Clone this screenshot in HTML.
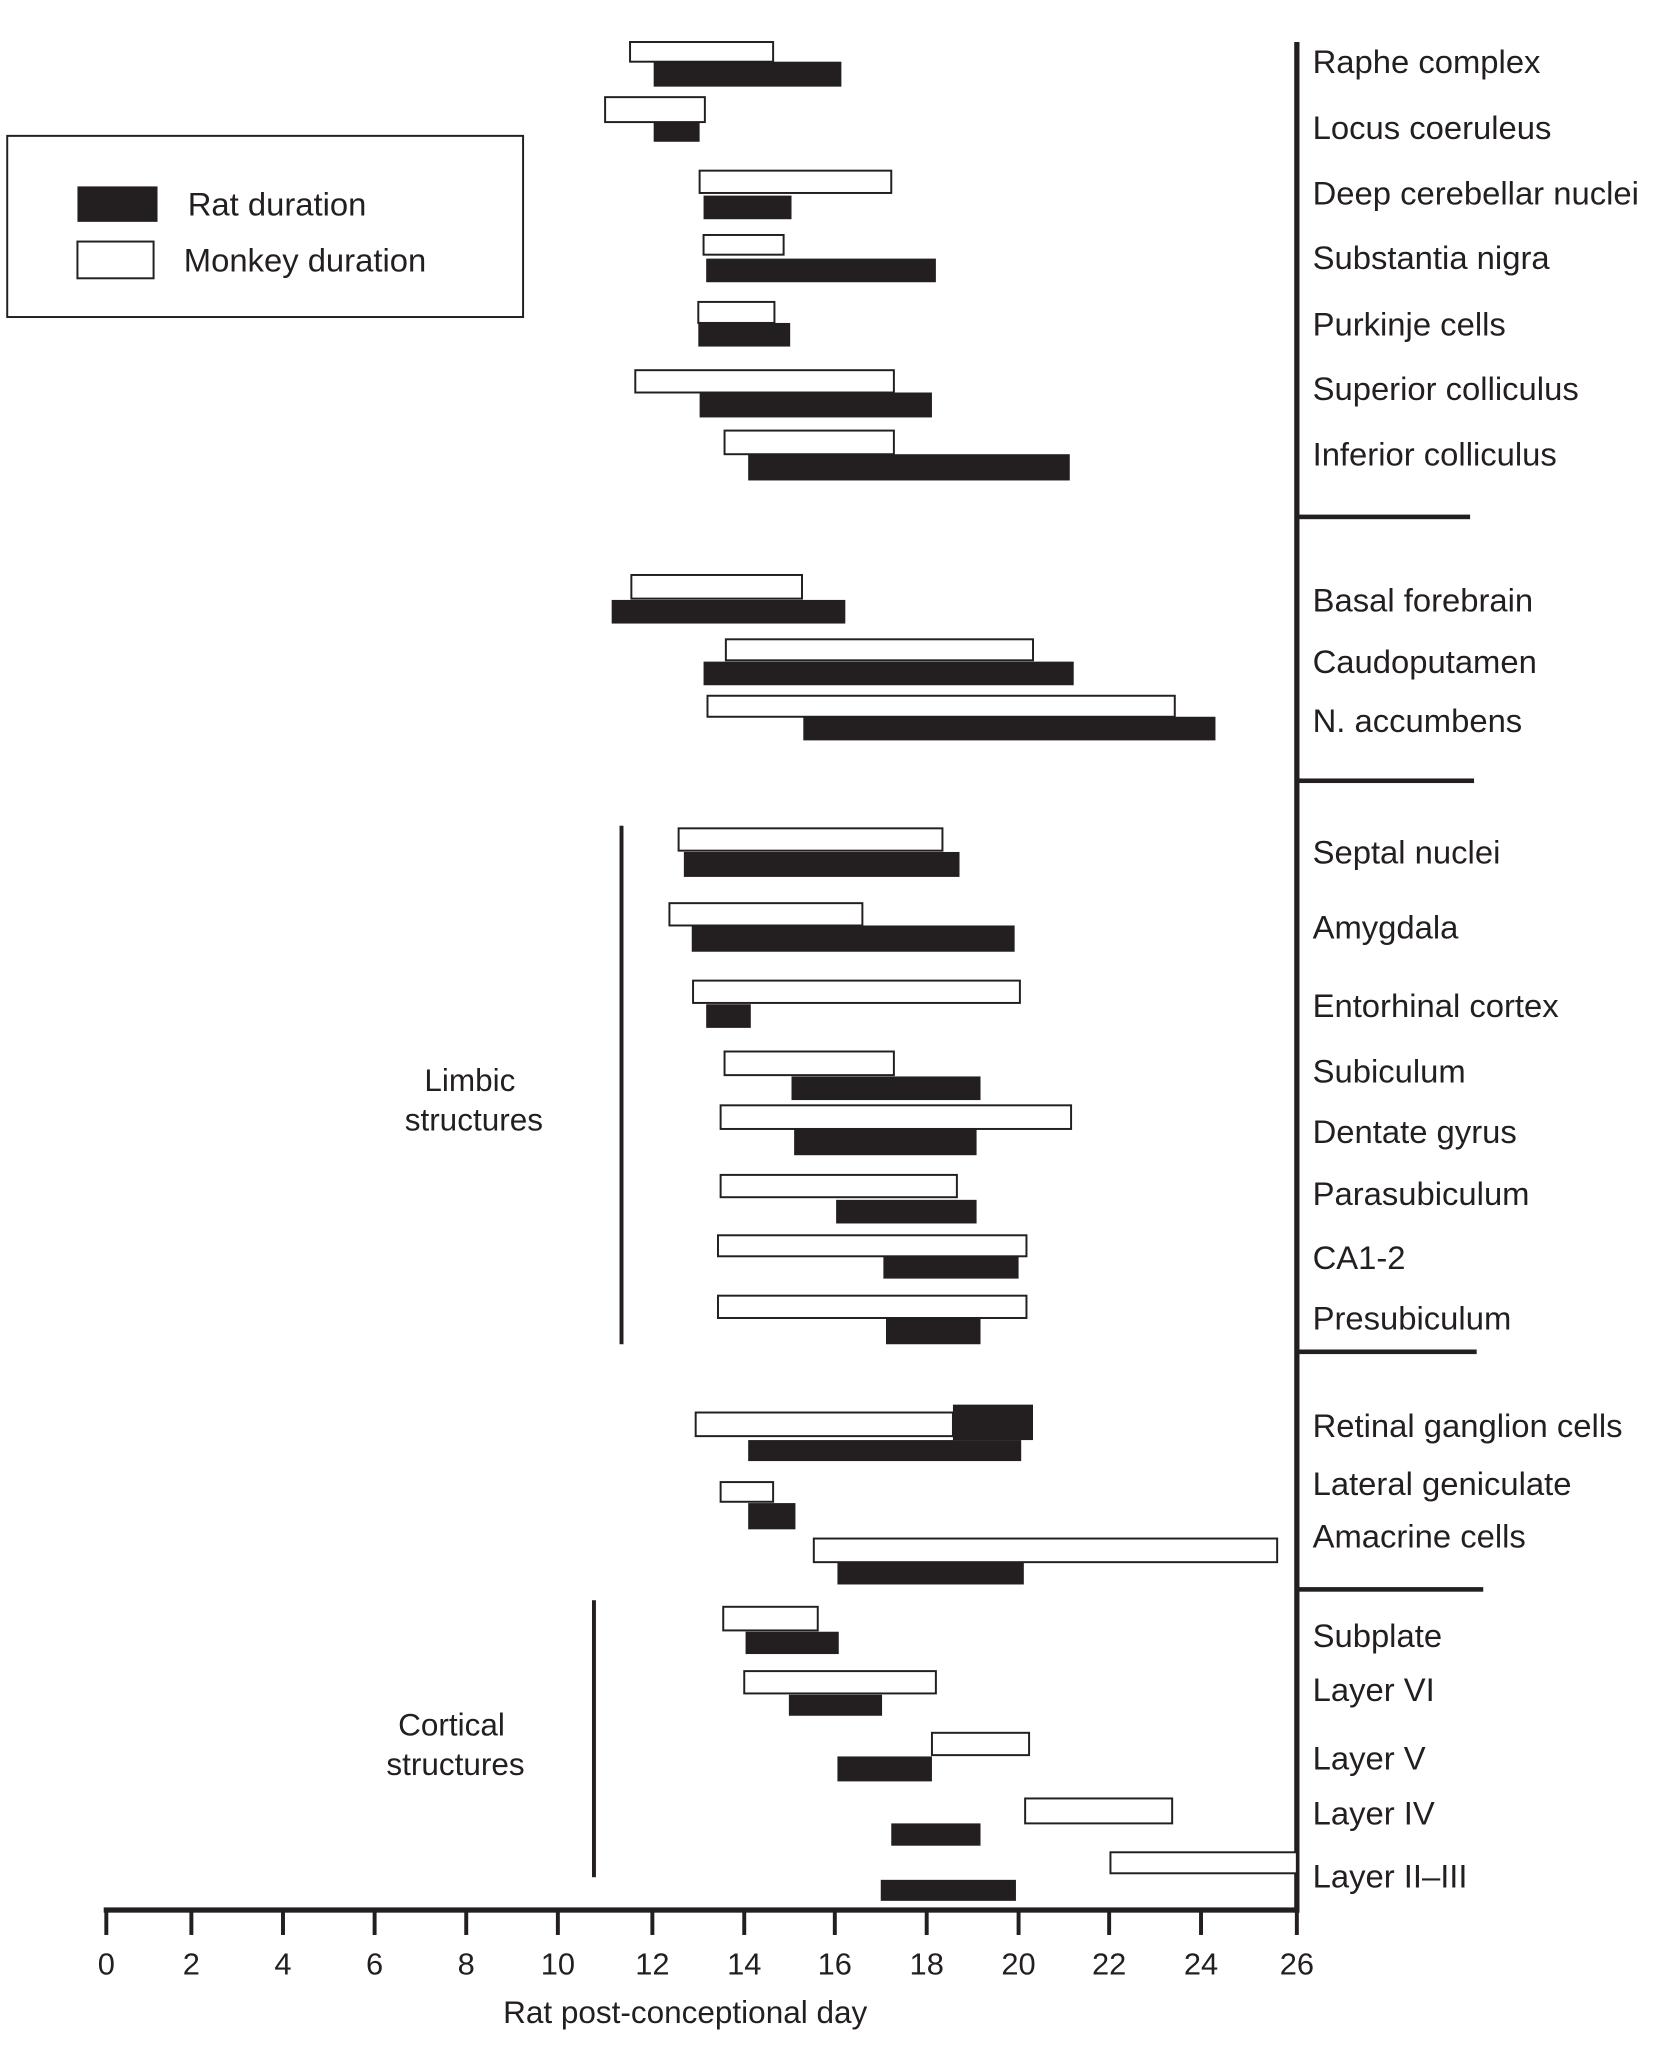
<!DOCTYPE html>
<html><head><meta charset="utf-8"><style>html,body{margin:0;padding:0;background:#fff}svg{display:block}text{font-family:"Liberation Sans",Arial,sans-serif;fill:#231f20}</style></head><body>
<svg width="1667" height="2061" viewBox="0 0 1270 1570" preserveAspectRatio="none" xmlns="http://www.w3.org/2000/svg">
<g fill="#231f20">
<rect x="79" y="1453" width="911" height="4"/>
<rect x="986" y="32" width="4" height="1425"/>
<rect x="988" y="392" width="132" height="3.5"/>
<rect x="988" y="593" width="135" height="3.5"/>
<rect x="988" y="1028" width="137" height="3.5"/>
<rect x="988" y="1209" width="142" height="3.5"/>
<rect x="472" y="629" width="3" height="395"/>
<rect x="451" y="1219" width="3" height="211"/>
</g>
<g stroke="#231f20" stroke-width="3">
<line x1="81" y1="1455" x2="81" y2="1474"/><line x1="145.8" y1="1455" x2="145.8" y2="1474"/><line x1="215.6" y1="1455" x2="215.6" y2="1474"/><line x1="285.4" y1="1455" x2="285.4" y2="1474"/><line x1="355.2" y1="1455" x2="355.2" y2="1474"/><line x1="425" y1="1455" x2="425" y2="1474"/><line x1="497" y1="1455" x2="497" y2="1474"/><line x1="567" y1="1455" x2="567" y2="1474"/><line x1="636" y1="1455" x2="636" y2="1474"/><line x1="706" y1="1455" x2="706" y2="1474"/><line x1="776" y1="1455" x2="776" y2="1474"/><line x1="845" y1="1455" x2="845" y2="1474"/><line x1="915" y1="1455" x2="915" y2="1474"/><line x1="988" y1="1455" x2="988" y2="1474"/>
</g>
<g font-size="23.5" text-anchor="middle">
<text x="81" y="1504">0</text><text x="145.8" y="1504">2</text><text x="215.6" y="1504">4</text><text x="285.4" y="1504">6</text><text x="355.2" y="1504">8</text><text x="425" y="1504">10</text><text x="497" y="1504">12</text><text x="567" y="1504">14</text><text x="636" y="1504">16</text><text x="706" y="1504">18</text><text x="776" y="1504">20</text><text x="845" y="1504">22</text><text x="915" y="1504">24</text><text x="988" y="1504">26</text>
</g>
<g font-size="24" text-anchor="middle">
<text x="522" y="1541">Rat post-conceptional day</text>
<text x="358" y="831">Limbic</text><text x="361" y="861">structures</text>
<text x="344" y="1322">Cortical</text><text x="347" y="1352">structures</text>
</g>
<rect x="5.5" y="103.5" width="393" height="138" fill="none" stroke="#231f20" stroke-width="1.5"/>
<rect x="59" y="142" width="61" height="27" fill="#231f20"/>
<rect x="59" y="184" width="58" height="28" fill="#fff" stroke="#231f20" stroke-width="1.5"/>
<text x="143" y="164" font-size="25">Rat duration</text>
<text x="140" y="207" font-size="25">Monkey duration</text>
<g font-size="25" dominant-baseline="central">
<text x="1000" y="47">Raphe complex</text><text x="1000" y="97">Locus coeruleus</text><text x="1000" y="147">Deep cerebellar nuclei</text><text x="1000" y="196">Substantia nigra</text><text x="1000" y="247">Purkinje cells</text><text x="1000" y="296">Superior colliculus</text><text x="1000" y="346">Inferior colliculus</text>
<text x="1000" y="457">Basal forebrain</text><text x="1000" y="504">Caudoputamen</text><text x="1000" y="549">N. accumbens</text>
<text x="1000" y="649">Septal nuclei</text><text x="1000" y="706">Amygdala</text><text x="1000" y="766">Entorhinal cortex</text><text x="1000" y="816">Subiculum</text><text x="1000" y="862">Dentate gyrus</text><text x="1000" y="909">Parasubiculum</text><text x="1000" y="958">CA1-2</text><text x="1000" y="1004">Presubiculum</text>
<text x="1000" y="1086">Retinal ganglion cells</text><text x="1000" y="1130">Lateral geniculate</text><text x="1000" y="1170">Amacrine cells</text>
<text x="1000" y="1246">Subplate</text><text x="1000" y="1287">Layer VI</text><text x="1000" y="1339">Layer V</text><text x="1000" y="1381">Layer IV</text><text x="1000" y="1429">Layer II–III</text>
</g>
<g fill="#231f20">
<rect x="498" y="47" width="143" height="19"/><rect x="498" y="93" width="35" height="15"/><rect x="536" y="149" width="67" height="18"/><rect x="538" y="197" width="175" height="18"/><rect x="532" y="246" width="70" height="18"/><rect x="533" y="299" width="177" height="19"/><rect x="570" y="346" width="245" height="20"/>
<rect x="466" y="457" width="178" height="18"/><rect x="536" y="504" width="282" height="18"/><rect x="612" y="546" width="314" height="18"/>
<rect x="521" y="649" width="210" height="19"/><rect x="527" y="705" width="246" height="20"/><rect x="538" y="765" width="34" height="18"/><rect x="603" y="820" width="144" height="18"/><rect x="605" y="860" width="139" height="20"/><rect x="637" y="914" width="107" height="18"/><rect x="673" y="957" width="103" height="17"/><rect x="675" y="1004" width="72" height="20"/>
<rect x="726" y="1070" width="61" height="27"/><rect x="570" y="1097" width="208" height="16"/><rect x="570" y="1145" width="36" height="20"/><rect x="638" y="1190" width="142" height="17"/>
<rect x="568" y="1243" width="71" height="17"/><rect x="601" y="1291" width="71" height="16"/><rect x="638" y="1338" width="72" height="19"/><rect x="679" y="1389" width="68" height="17"/><rect x="671" y="1432" width="103" height="16"/>
</g>
<g fill="#fff" stroke="#231f20" stroke-width="1.5">
<rect x="480" y="32" width="109" height="15"/><rect x="461" y="74" width="76" height="19"/><rect x="533" y="130" width="146" height="17"/><rect x="536" y="179" width="61" height="15"/><rect x="532" y="230" width="58" height="16"/><rect x="484" y="282" width="197" height="17"/><rect x="552" y="328" width="129" height="18"/>
<rect x="481" y="438" width="130" height="18"/><rect x="553" y="487" width="234" height="16"/><rect x="539" y="530" width="356" height="16"/>
<rect x="517" y="631" width="201" height="17"/><rect x="510" y="688" width="147" height="17"/><rect x="528" y="747" width="249" height="17"/><rect x="552" y="801" width="129" height="18"/><rect x="549" y="842" width="267" height="18"/><rect x="549" y="895" width="180" height="17"/><rect x="547" y="941" width="235" height="16"/><rect x="547" y="987" width="235" height="17"/>
<rect x="530" y="1076" width="196" height="18"/><rect x="549" y="1129" width="40" height="15"/><rect x="620" y="1172" width="353" height="18"/>
<rect x="551" y="1224" width="72" height="18"/><rect x="567" y="1273" width="146" height="17"/><rect x="710" y="1320" width="74" height="17"/><rect x="781" y="1370" width="112" height="19"/><rect x="846" y="1411" width="142" height="16"/>
</g>
</svg>
</body></html>
